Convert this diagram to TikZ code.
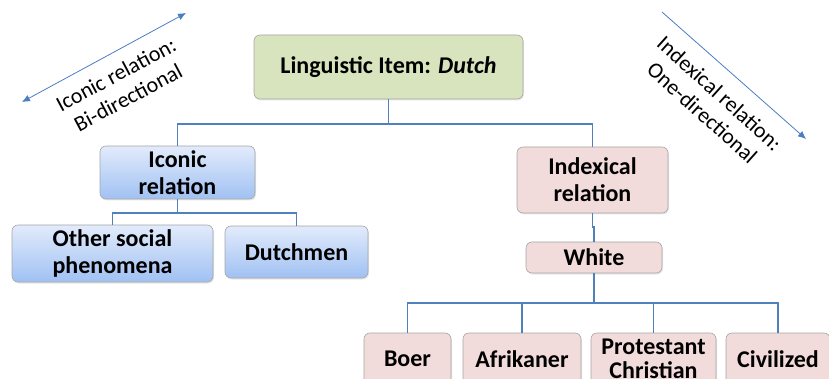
\documentclass[tikz,border=0pt]{standalone}
\usepackage{fontspec}
\setmainfont{Carlito}
\usetikzlibrary{shadows,arrows.meta}
\definecolor{itemgreen}{RGB}{215,228,189}
\definecolor{icotop}{RGB}{226,235,251}
\definecolor{icobot}{RGB}{160,193,243}
\definecolor{idxpink}{RGB}{242,220,219}
\definecolor{linkblue}{RGB}{79,129,189}
\definecolor{arrblue}{RGB}{74,126,193}
\tikzset{
  box/.style={draw=black!35, line width=0.6pt, rounded corners=6pt, align=center,
    font=\bfseries\fontsize{24}{27}\selectfont, inner sep=0pt,
    drop shadow={opacity=0.2, shadow xshift=1pt, shadow yshift=-1.5pt}},
  itembox/.style={box, fill=itemgreen},
  icobox/.style={box, top color=icotop, bottom color=icobot},
  idxbox/.style={box, fill=idxpink},
  link/.style={draw=linkblue, line width=1.7pt},
  relarrow/.style={draw=arrblue, line width=0.8pt},
  reltext/.style={font=\fontsize{22}{26}\selectfont, align=center}
}
\begin{document}
\begin{tikzpicture}[x=1pt, y=-1pt]
    \path[use as bounding box, clip] (0,0) rectangle (829,379);
    % top item
    \node[itembox, minimum width=269pt, minimum height=64pt] (item) at (388.5,67) {Linguistic Item: \textit{Dutch}};
    % iconic branch
    \node[icobox, minimum width=155pt, minimum height=53pt] (iconic) at (177.5,172.5) {Iconic\\relation};
    \node[icobox, minimum width=201pt, minimum height=57pt] (other) at (112.5,253.5) {Other social\\phenomena};
    \node[icobox, minimum width=143pt, minimum height=52pt] (dutchmen) at (296.5,252) {Dutchmen};
    % indexical branch
    \node[idxbox, minimum width=151pt, minimum height=66pt] (indexical) at (592.5,180) {Indexical\\relation};
    \node[idxbox, minimum width=136pt, minimum height=31pt] (white) at (594,257.5) {White};
    \node[idxbox, minimum width=87pt, minimum height=52pt] (boer) at (407.5,359) {Boer};
    \node[idxbox, minimum width=118pt, minimum height=52pt] (afrikaner) at (522,359) {Afrikaner};
    \node[idxbox, minimum width=125pt, minimum height=52pt, font=\bfseries\fontsize{24}{24}\selectfont] (protestant) at (653.5,359) {Protestant\\Christian};
    \node[idxbox, minimum width=104pt, minimum height=52pt] (civilized) at (778,359) {Civilized};
    % connectors
    \draw[link] (item.south) -- ++(0,25) -| (iconic.north);
    \draw[link] (item.south) -- ++(0,25) -| (indexical.north);
    \draw[link] (iconic.south) -- ++(0,14) -| (other.north);
    \draw[link] (iconic.south) -- ++(0,14) -| (dutchmen.north);
    \draw[link] (indexical.south) -- ++(0,14) -| (white.north);
    \foreach \leaf in {boer,afrikaner,protestant,civilized}
      \draw[link] (white.south) -- ++(0,30) -| (\leaf.north);
    % relation arrows
    \coordinate (icoA) at (22,102);
    \coordinate (icoB) at (186,13);
    \coordinate (idxA) at (662,12);
    \coordinate (idxB) at (806,139);
    \draw[relarrow, <->, >={Latex[length=8pt,width=7pt]}] (icoA) -- (icoB);
    \draw[relarrow, ->, >={Latex[length=8pt,width=7pt]}] (idxA) -- (idxB);
    \node[reltext, rotate=28] (icotext) at (122,86) {Iconic relation:\\Bi-directional};
    \node[reltext, rotate=-42] (idxtext) at (711,103) {Indexical relation:\\One-directional};
\end{tikzpicture}
\end{document}
